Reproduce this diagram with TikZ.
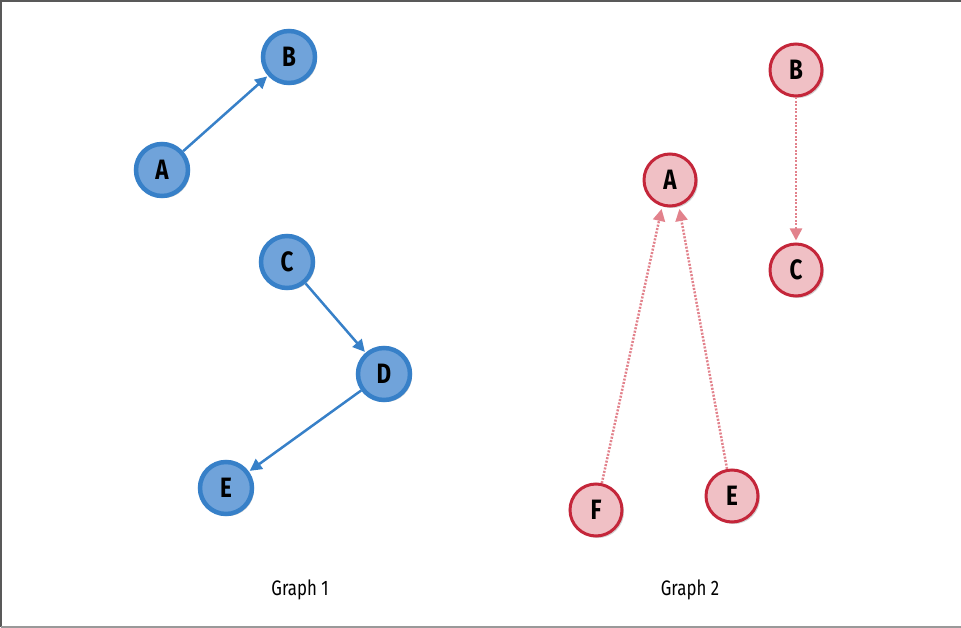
\documentclass[tikz,border=0pt]{standalone}
\usepackage{fontspec}
\setmainfont{Fira Sans}[FakeStretch=0.8]
\usetikzlibrary{arrows.meta,shadows}
\definecolor{bfill}{RGB}{112,163,218}
\definecolor{bdraw}{RGB}{55,128,200}
\definecolor{rfill}{RGB}{240,192,197}
\definecolor{rdraw}{RGB}{196,38,58}
\definecolor{rline}{RGB}{226,130,140}
\tikzset{
  bnode/.style={circle, minimum size=52pt, inner sep=0pt, fill=bfill, draw=bdraw, line width=4.5pt,
    font=\fontsize{28}{28}\selectfont\bfseries, drop shadow={shadow xshift=2pt, shadow yshift=-2pt, opacity=0.35}},
  rnode/.style={circle, minimum size=52pt, inner sep=0pt, fill=rfill, draw=rdraw, line width=3pt,
    font=\fontsize{28}{28}\selectfont\bfseries, drop shadow={shadow xshift=2pt, shadow yshift=-2pt, opacity=0.35}},
  barrow/.style={draw=bdraw, line width=2.5pt, -{Triangle[length=12pt,width=12pt]}, shorten >=1pt},
  rarrow/.style={draw=rline, line width=2.5pt, dash pattern=on 2pt off 1.5pt, -{Triangle[length=12pt,width=12pt]}, shorten >=2pt},
  captext/.style={font=\fontsize{21}{21}\selectfont}
}
\begin{document}
\begin{tikzpicture}[x=1pt,y=-1pt]
\useasboundingbox (0,0) rectangle (961,628);
\draw[black!65, line width=1.5pt] (1,627) -- (1,1) -- (961,1);
\draw[black!40, line width=1.5pt] (1,627) -- (961,627);
% Graph 1
\node[bnode] (b1) at (289,57) {B};
\node[bnode] (a1) at (162,170) {A};
\node[bnode] (c1) at (287,262) {C};
\node[bnode] (d1) at (384,374) {D};
\node[bnode] (e1) at (226,488) {E};
\draw[barrow] (a1) -- (b1);
\draw[barrow] (c1) -- (d1);
\draw[barrow] (d1) -- (e1);
% Graph 2
\node[rnode] (b2) at (796,70) {B};
\node[rnode] (a2) at (670,180) {A};
\node[rnode] (c2) at (796,270) {C};
\node[rnode] (f2) at (596,510) {F};
\node[rnode] (e2) at (732,496) {E};
\coordinate (a2l) at (662,207);
\coordinate (a2r) at (679,207);
\draw[rarrow] (f2) -- (a2l);
\draw[rarrow] (e2) -- (a2r);
\draw[rarrow] (b2) -- (c2);
\node[captext] (g1) at (300,590) {Graph 1};
\node[captext] (g2) at (690,590) {Graph 2};
\end{tikzpicture}
\end{document}
